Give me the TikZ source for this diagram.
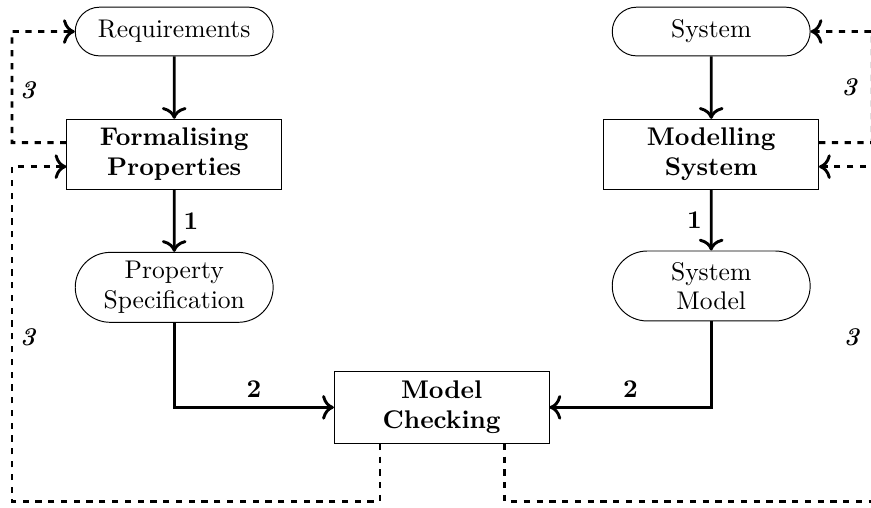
\documentclass[tikz,border=0pt]{standalone}
\usetikzlibrary{shapes.misc,arrows.meta}

\begin{document}
\begin{tikzpicture}[
    >={To[scale=1.15]},
    every node/.append style={font=\fontsize{10.6}{12.2}\selectfont},
    box/.style={draw, rectangle, minimum width=3.13cm, minimum height=1.02cm, align=center, font=\fontsize{10.6}{12.2}\selectfont\bfseries},
    pill/.style={draw, rounded rectangle, minimum width=3.12cm, align=center},
    flow/.style={->, very thick},
    back/.style={->, very thick, dash pattern=on 2.6pt off 2.7pt}
]
    \useasboundingbox (0,0) rectangle (12.70,7.40);
    \def\Lx{0.175}
    \def\Rx{12.72}
    \def\By{0.087}

    % Nodes
    \node[pill, minimum height=0.71cm] (req) at (2.54,6.94) {Requirements};
    \node[box] (form) at (2.54,5.15) {Formalising\\Properties};
    \node[pill, minimum height=1.02cm] (spec) at (2.54,3.21) {Property\\Specification};
    \node[pill, minimum height=0.71cm] (sys) at (10.37,6.94) {System};
    \node[box] (mod) at (10.37,5.15) {Modelling\\System};
    \node[pill, minimum height=1.02cm] (smod) at (10.37,3.23) {System\\Model};
    \node[box, minimum height=1.05cm] (check) at (6.44,1.46) {Model\\Checking};

    % Main flow
    \draw[flow] (req) -- (form);
    \draw[flow] (form) -- (spec) node[midway, right] {\textbf{1}};
    \draw[flow] (spec) |- (check.west) node[pos=0.75, above] {\textbf{2}};
    \draw[flow] (sys) -- (mod);
    \draw[flow] (mod) -- (smod) node[midway, left] {\textbf{1}};
    \draw[flow] (smod) |- (check.east) node[pos=0.75, above] {\textbf{2}};

    % Feedback loops
    \draw[back] ([yshift=0.17cm]form.west) -- (\Lx,5.32) |- (req.west);
    \draw[back] ([xshift=-0.9cm]check.south) |- (\Lx,\By) |- ([yshift=-0.18cm]form.west);
    \draw[back] ([yshift=0.17cm]mod.east) -- (\Rx,5.32) |- (sys.east);
    \draw[back] ([xshift=0.92cm]check.south) |- (\Rx,\By) |- ([yshift=-0.18cm]mod.east);

    \node (l3a) at (0.41,6.09) {\textbf{\textit{3}}};
    \node (l3b) at (0.41,2.48) {\textbf{\textit{3}}};
    \node (l3c) at (12.39,6.12) {\textbf{\textit{3}}};
    \node (l3d) at (12.42,2.48) {\textbf{\textit{3}}};
\end{tikzpicture}
\end{document}
